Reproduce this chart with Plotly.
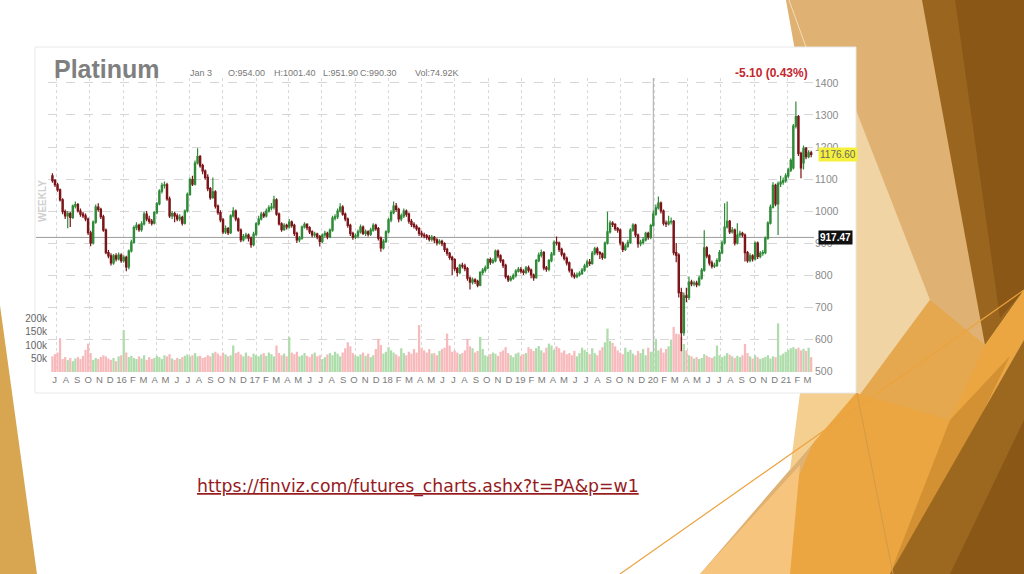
import pandas as pd
import plotly.graph_objects as go

# weekly platinum futures, one candle per week starting this date
start_week = '2015-06-21'

open_ = [
    1110, 1095, 1082, 1066, 1035, 998, 985, 992, 980, 1015,
    1020, 1000, 990, 985, 975, 932, 900, 965, 1012, 1005,
    982, 940, 870, 860, 838, 860, 850, 862, 845, 855,
    825, 875, 902, 948, 955, 942, 960, 990, 975, 968,
    962, 995, 1022, 1062, 1080, 1082, 1038, 985, 992, 985,
    975, 980, 962, 1000, 1052, 1098, 1084, 1150, 1170, 1142,
    1125, 1105, 1070, 1042, 1060, 1015, 995, 972, 935, 945,
    932, 985, 1000, 975, 940, 910, 920, 925, 915, 895,
    928, 960, 975, 990, 985, 1000, 1010, 1012, 1035, 990,
    960, 942, 955, 950, 965, 955, 930, 910, 915, 950,
    958, 948, 935, 925, 928, 920, 905, 925, 930, 920,
    940, 978, 982, 1000, 1012, 990, 975, 955, 930, 918,
    922, 935, 950, 930, 935, 928, 940, 955, 945, 915,
    885, 905, 935, 972, 995, 1015, 1005, 975, 985, 1000,
    990, 968, 958, 952, 945, 930, 925, 922, 918, 912,
    918, 910, 900, 905, 898, 880, 868, 855, 848, 820,
    808, 830, 828, 820, 790, 778, 785, 780, 768, 808,
    815, 822, 848, 840, 845, 875, 860, 845, 830, 795,
    785, 790, 798, 812, 818, 812, 808, 822, 815, 800,
    792, 845, 862, 870, 822, 818, 845, 865, 902, 900,
    880, 865, 852, 838, 815, 800, 795, 800, 805, 815,
    828, 840, 836, 868, 882, 870, 866, 855, 900, 935,
    962, 958, 945, 940, 900, 880, 890, 902, 940, 956,
    925, 898, 902, 910, 930, 918, 954, 990.3, 1010, 1025,
    1000, 962, 960, 966, 968, 870, 862, 745, 620, 735,
    730, 778, 772, 775, 770, 790, 815, 885, 860, 838,
    828, 830, 845, 870, 900, 950, 968, 935, 940, 900,
    925, 930, 925, 870, 845, 860, 850, 900, 858, 868,
    870, 915, 962, 1012, 1080, 1022, 1085, 1090, 1095, 1110,
    1128, 1135, 1265, 1295, 1180, 1150, 1196, 1170, 1182,
]

high = [
    1118, 1100, 1088, 1070, 1040, 1005, 1000, 998, 1020, 1030,
    1025, 1008, 998, 992, 980, 938, 970, 1020, 1024, 1010,
    988, 945, 878, 868, 866, 868, 870, 868, 862, 860,
    880, 910, 955, 965, 960, 968, 998, 1000, 985, 975,
    1000, 1028, 1068, 1088, 1092, 1088, 1045, 1000, 998, 992,
    990, 985, 1005, 1058, 1105, 1110, 1158, 1196, 1175, 1148,
    1130, 1115, 1075, 1105, 1065, 1020, 1002, 978, 955, 950,
    990, 1012, 1005, 980, 945, 928, 932, 930, 920, 935,
    965, 985, 998, 998, 1008, 1018, 1025, 1048, 1040, 995,
    965, 962, 960, 975, 970, 960, 935, 922, 955, 965,
    962, 952, 940, 935, 932, 925, 930, 938, 935, 945,
    985, 990, 1008, 1024, 1018, 995, 980, 960, 935, 930,
    942, 958, 955, 942, 940, 948, 962, 960, 950, 920,
    912, 940, 978, 1002, 1030, 1025, 1010, 992, 1008, 1005,
    995, 975, 965, 958, 950, 938, 932, 928, 925, 925,
    922, 915, 912, 910, 902, 885, 872, 860, 852, 825,
    835, 838, 835, 825, 795, 792, 790, 785, 812, 822,
    830, 852, 855, 852, 880, 880, 865, 850, 835, 800,
    798, 805, 818, 825, 825, 818, 828, 830, 820, 805,
    850, 870, 880, 875, 828, 850, 872, 908, 920, 905,
    885, 870, 858, 842, 820, 808, 808, 812, 822, 835,
    848, 850, 875, 888, 888, 875, 870, 905, 998, 970,
    968, 962, 950, 945, 905, 898, 910, 946, 962, 960,
    930, 910, 918, 935, 935, 960, 1001.4, 1020, 1045, 1030,
    1005, 970, 985, 980, 972, 900, 868, 760, 745, 760,
    795, 785, 782, 782, 798, 822, 940, 890, 865, 845,
    838, 852, 878, 908, 1024, 1030, 972, 950, 945, 962,
    938, 935, 930, 875, 868, 865, 905, 905, 875, 878,
    920, 968, 1020, 1090, 1085, 1092, 1110, 1105, 1118, 1135,
    1165, 1272, 1342, 1300, 1185, 1205, 1200, 1190, 1188,
]

low = [
    1088, 1075, 1060, 1030, 990, 975, 946, 950, 975, 1008,
    995, 982, 978, 968, 925, 890, 895, 960, 998, 975,
    935, 865, 852, 830, 832, 842, 845, 838, 838, 812,
    818, 870, 898, 940, 935, 935, 955, 968, 960, 955,
    958, 990, 1018, 1055, 1070, 1032, 978, 975, 965, 968,
    968, 955, 958, 995, 1048, 1078, 1080, 1145, 1135, 1115,
    1098, 1062, 1035, 1038, 1008, 988, 965, 928, 928, 925,
    928, 980, 968, 935, 902, 905, 912, 905, 885, 890,
    922, 955, 970, 978, 980, 995, 1002, 1005, 985, 955,
    935, 938, 942, 945, 948, 922, 900, 902, 910, 945,
    940, 928, 918, 918, 912, 889, 900, 918, 912, 915,
    935, 970, 975, 995, 985, 968, 948, 922, 910, 912,
    915, 930, 925, 922, 920, 922, 935, 938, 908, 873,
    880, 900, 930, 965, 990, 998, 965, 968, 978, 982,
    960, 950, 945, 938, 922, 918, 915, 910, 905, 905,
    900, 892, 895, 890, 872, 860, 848, 800, 812, 795,
    802, 820, 812, 782, 755, 770, 772, 762, 765, 800,
    808, 818, 832, 835, 840, 852, 838, 822, 788, 778,
    780, 785, 792, 808, 805, 800, 802, 808, 790, 782,
    788, 840, 855, 815, 810, 812, 840, 860, 892, 872,
    858, 845, 830, 808, 792, 788, 790, 795, 800, 810,
    822, 828, 832, 862, 862, 850, 848, 850, 895, 930,
    950, 938, 932, 892, 872, 875, 885, 898, 935, 918,
    885, 890, 895, 905, 910, 912, 951.9, 985, 1005, 992,
    955, 950, 955, 958, 862, 840, 730, 562, 610, 715,
    722, 765, 765, 762, 765, 785, 810, 852, 830, 820,
    822, 825, 840, 865, 895, 945, 928, 930, 892, 895,
    918, 918, 842, 838, 840, 842, 845, 850, 852, 860,
    865, 910, 958, 1008, 1015, 925, 1075, 1082, 1088, 1102,
    1122, 1130, 1258, 1172, 1102, 1130, 1162, 1165, 1168,
]

close_ = [
    1095, 1082, 1066, 1035, 998, 985, 992, 980, 1015, 1020,
    1000, 990, 985, 975, 932, 900, 965, 1012, 1005, 982,
    940, 870, 860, 838, 860, 850, 862, 845, 855, 825,
    875, 902, 948, 955, 942, 960, 990, 975, 968, 962,
    995, 1022, 1062, 1080, 1082, 1038, 985, 992, 985, 975,
    980, 962, 1000, 1052, 1098, 1084, 1150, 1170, 1142, 1125,
    1105, 1070, 1042, 1060, 1015, 995, 972, 935, 945, 932,
    985, 1000, 975, 940, 910, 920, 925, 915, 895, 928,
    960, 975, 990, 985, 1000, 1010, 1012, 1035, 990, 960,
    942, 955, 950, 965, 955, 930, 910, 915, 950, 958,
    948, 935, 925, 928, 920, 905, 925, 930, 920, 940,
    978, 982, 1000, 1012, 990, 975, 955, 930, 918, 922,
    935, 950, 930, 935, 928, 940, 955, 945, 915, 885,
    905, 935, 972, 995, 1015, 1005, 975, 985, 1000, 990,
    968, 958, 952, 945, 930, 925, 922, 918, 912, 918,
    910, 900, 905, 898, 880, 868, 855, 848, 820, 808,
    830, 828, 820, 790, 778, 785, 780, 768, 808, 815,
    822, 848, 840, 845, 875, 860, 845, 830, 795, 785,
    790, 798, 812, 818, 812, 808, 822, 815, 800, 792,
    845, 862, 870, 822, 818, 845, 865, 902, 900, 880,
    865, 852, 838, 815, 800, 795, 800, 805, 815, 828,
    840, 836, 868, 882, 870, 866, 855, 900, 935, 962,
    958, 945, 940, 900, 880, 890, 902, 940, 956, 925,
    898, 902, 910, 930, 918, 954, 990.3, 1010, 1025, 1000,
    962, 960, 966, 968, 870, 862, 745, 620, 735, 730,
    778, 772, 775, 770, 790, 815, 885, 860, 838, 828,
    830, 845, 870, 900, 950, 968, 935, 940, 900, 925,
    930, 925, 870, 845, 860, 850, 900, 858, 868, 870,
    915, 962, 1012, 1080, 1022, 1085, 1090, 1095, 1110, 1128,
    1158, 1265, 1295, 1180, 1135, 1196, 1170, 1182, 1176.6,
]

# weekly volume in thousands of contracts
volume_k = [
    58, 66, 72, 125, 48, 55, 44, 52, 40, 50,
    55, 48, 60, 82, 105, 70, 45, 52, 48, 56,
    62, 58, 50, 45, 52, 40, 58, 62, 155, 72,
    55, 60, 52, 48, 58, 50, 62, 45, 55, 48,
    52, 60, 55, 48, 62, 58, 66, 50, 45, 52,
    48, 55, 60, 65, 58, 62, 70, 58, 60, 52,
    55, 62, 58, 70, 75, 68, 60, 72, 65, 58,
    62, 98, 70, 75, 65, 58, 72, 60, 55, 68,
    62, 58, 65, 70, 60, 72, 66, 58, 98, 70,
    62, 68, 58, 130, 72, 66, 75, 58, 62, 70,
    60, 55, 66, 72, 58, 62, 48, 55, 65, 70,
    62, 75, 68, 58, 72, 88, 110, 95, 70, 62,
    58, 65, 72, 60, 68, 55, 62, 85, 123, 100,
    68, 75, 92, 80, 72, 65, 58, 88, 70, 62,
    75, 68, 85, 72, 174, 90, 80, 72, 85, 68,
    70, 62, 78, 85, 90, 142, 98, 75, 80, 72,
    66, 70, 80, 123, 95, 88, 72, 78, 130, 85,
    62, 58, 66, 72, 68, 60, 75, 80, 92, 70,
    62, 55, 68, 72, 60, 66, 70, 92, 85, 78,
    88, 96, 80, 72, 90, 105, 98, 82, 95, 88,
    72, 80, 66, 70, 62, 78, 58, 70, 90, 82,
    75, 66, 88, 70, 62, 80, 92, 110, 161, 115,
    108, 95, 80, 72, 66, 90, 75, 82, 68, 62,
    78, 70, 85, 62, 90, 75, 74.92, 123, 80, 88,
    72, 85, 95, 120, 167, 142, 140, 130, 104, 80,
    62, 58, 50, 55, 48, 52, 66, 60, 55, 52,
    58, 98, 62, 55, 60, 70, 64, 58, 52, 60,
    55, 62, 104, 70, 58, 50, 62, 55, 48, 52,
    56, 62, 50, 58, 55, 180, 62, 68, 75, 82,
    88, 92, 85, 90, 80, 86, 78, 90, 55,
]

month_labels = [
    'J', 'A', 'S', 'O', 'N', 'D',
    '16', 'F', 'M', 'A', 'M', 'J', 'J', 'A', 'S', 'O', 'N', 'D',
    '17', 'F', 'M', 'A', 'M', 'J', 'J', 'A', 'S', 'O', 'N', 'D',
    '18', 'F', 'M', 'A', 'M', 'J', 'J', 'A', 'S', 'O', 'N', 'D',
    '19', 'F', 'M', 'A', 'M', 'J', 'J', 'A', 'S', 'O', 'N', 'D',
    '20', 'F', 'M', 'A', 'M', 'J', 'J', 'A', 'S', 'O', 'N', 'D',
    '21', 'F', 'M',
]
first_month = '2015-07-01'

price_ticks = [500, 600, 700, 800, 900, 1000, 1100, 1200, 1300, 1400]
vol_ticks = [50, 100, 150, 200]
vol_labels = ['50k', '100k', '150k', '200k']

last_price = 1176.60
ref_level = 917.47
change_text = '-5.10 (0.43%)'
hover_idx = 236
hover_label = 'Jan 3'

n = len(close_)
assert len(open_) == n and len(high) == n and len(low) == n and len(volume_k) == n

dates = pd.date_range(start_week, periods=n, freq='7D')
month_ticks = pd.date_range(first_month, periods=len(month_labels), freq='MS') - pd.Timedelta(days=4)
quarter_ticks = pd.date_range('2015-07-01', '2021-01-01', freq='QS')
x_range = ['2015-06-08 19:00', '2021-03-14 19:00']

# page geometry (pixels) of the plot area
W, H = 1024, 574
L, R, T, B = 48, 814, 78, 372


def px(x):
    return (x - L) / (R - L)


def py(y):
    return (B - y) / (B - T)


def poly(points, color, opacity=1.0):
    path = 'M ' + ' L '.join(f'{px(x):.4f},{py(y):.4f}' for x, y in points) + ' Z'
    return dict(type='path', xref='paper', yref='paper', path=path,
                fillcolor=color, opacity=opacity, line=dict(width=0), layer='below')


def seg(x0, y0, x1, y1, color, width=1):
    return dict(type='line', xref='paper', yref='paper',
                x0=px(x0), y0=py(y0), x1=px(x1), y1=py(y1),
                line=dict(color=color, width=width), layer='below')


fig = go.Figure()

vol_colors = ['#aedcaa' if c >= o else '#f7b9bb' for o, c in zip(open_, close_)]

fig.add_trace(
    go.Bar(
        x=dates,
        y=volume_k,
        marker=dict(color=vol_colors, line=dict(width=0)),
        xaxis='x',
        yaxis='y',
        showlegend=False,
        hoverinfo='skip'
    )
)

fig.add_trace(
    go.Candlestick(
        x=dates,
        open=open_,
        high=high,
        low=low,
        close=close_,
        xaxis='x2',
        yaxis='y2',
        increasing=dict(line=dict(color='#2f8a38', width=1.2), fillcolor='#45ad4f'),
        decreasing=dict(line=dict(color='#7a1418', width=1.2), fillcolor='#a8232b'),
        whiskerwidth=0,
        showlegend=False
    )
)

shapes = [
    # slide decoration
    poly([(0, 305), (37, 574), (0, 574)], '#d8a650'),
    poly([(786, 0), (1024, 0), (1024, 574), (700, 574), (856, 393)], '#dfb273'),
    poly([(922, 0), (1024, 0), (1024, 290), (985, 345)], '#9a661f'),
    poly([(955, 0), (1024, 0), (1024, 290), (1000, 318)], '#8a5716'),
    poly([(856, 110), (930, 300), (856, 400)], '#f1d4a4'),
    poly([(930, 300), (985, 345), (950, 420), (856, 400)], '#e5a84e'),
    poly([(756, 574), (835, 393), (856, 393), (950, 420), (985, 345), (1024, 290),
          (1024, 340), (890, 574)], '#eba641'),
    poly([(800, 393), (856, 393), (790, 470)], '#f5cf8f'),
    poly([(950, 420), (1010, 356), (905, 574), (890, 574)], '#d39134'),
    poly([(1024, 340), (1024, 574), (890, 574)], '#9c6820'),
    poly([(1024, 420), (1024, 574), (950, 574)], '#8a5717'),
    poly([(700, 574), (800, 465), (790, 574)], '#f6c47c'),
    seg(620, 574, 1024, 290, '#eba33f', 1.2),
    seg(789, 0, 806, 47, '#f3dcb4', 1),
    seg(857, 393, 893, 574, '#d49a45', 1),
    # white chart panel
    dict(type='rect', xref='paper', yref='paper',
         x0=px(35), y0=py(393), x1=px(856), y1=py(47),
         fillcolor='white', line=dict(color='#e8e8e8', width=1), layer='below'),
    # last close reference line and crosshair
    dict(type='line', xref='paper', yref='y2', x0=px(36), x1=1, y0=ref_level, y1=ref_level,
         line=dict(color='#9a9a9a', width=1), layer='below'),
    dict(type='line', xref='x2', yref='paper', x0=dates[hover_idx], x1=dates[hover_idx],
         y0=0, y1=1, line=dict(color='#a8a8a8', width=1), layer='below'),
]

font_main = 'Liberation Sans, Arial, sans-serif'
info_font = dict(size=9, color='#777777', family=font_main)

annotations = [
    dict(x=px(52), y=py(69), text='<b>Platinum</b>', xanchor='left', yanchor='middle',
         font=dict(size=25, color='#7f7f7f', family=font_main)),
    dict(x=px(188), y=py(73), text=hover_label, xanchor='left', yanchor='middle', font=info_font),
    dict(x=px(226), y=py(73), text=f'O:{open_[hover_idx]:.2f}', xanchor='left', yanchor='middle',
         font=info_font),
    dict(x=px(272), y=py(73), text=f'H:{high[hover_idx]:.2f}', xanchor='left', yanchor='middle',
         font=info_font),
    dict(x=px(321), y=py(73), text=f'L:{low[hover_idx]:.2f}', xanchor='left', yanchor='middle',
         font=info_font),
    dict(x=px(358), y=py(73), text=f'C:{close_[hover_idx]:.2f}', xanchor='left', yanchor='middle',
         font=info_font),
    dict(x=px(413), y=py(73), text=f'Vol:{volume_k[hover_idx]:.2f}K', xanchor='left', yanchor='middle',
         font=info_font),
    dict(x=px(810), y=py(73), text=f'<b>{change_text}</b>', xanchor='right', yanchor='middle',
         font=dict(size=12, color='#c3262e', family=font_main)),
    dict(x=px(42), y=py(201), text='<b>WEEKLY</b>', textangle=-90, xanchor='center', yanchor='middle',
         font=dict(size=10, color='#cfcfcf', family=font_main)),
    dict(x=px(818), y=last_price, xref='paper', yref='y2', text=f'{last_price:.2f}',
         xanchor='left', yanchor='middle', bgcolor='#f5f03c', borderpad=1,
         font=dict(size=10, color='#666666', family=font_main)),
    dict(x=px(818), y=ref_level, xref='paper', yref='y2', text=f'<b>{ref_level:.2f}</b>',
         xanchor='left', yanchor='middle', bgcolor='#111111', borderpad=1,
         font=dict(size=10, color='white', family=font_main)),
    dict(x=px(418), y=py(487), text='<u>https://finviz.com/futures_charts.ashx?t=PA&p=w1</u>',
         xanchor='center', yanchor='middle',
         font=dict(size=17.3, color='#961b1e', family='DejaVu Sans, sans-serif')),
]
for a in annotations:
    a.setdefault('xref', 'paper')
    a.setdefault('yref', 'paper')
    a['showarrow'] = False

fig.update_layout(
    width=W,
    height=H,
    autosize=False,
    margin=dict(l=L, r=W - R, t=T, b=H - B, pad=0),
    paper_bgcolor='white',
    plot_bgcolor='rgba(0,0,0,0)',
    font=dict(family=font_main, size=10, color='#777777'),
    bargap=0.12,
    showlegend=False,
    shapes=shapes,
    annotations=annotations,
    xaxis=dict(
        range=x_range,
        tickvals=quarter_ticks,
        showticklabels=False,
        showgrid=True,
        gridcolor='#d9d9d9',
        griddash='dot',
        gridwidth=1,
        zeroline=False,
        ticks='',
        showline=False,
        rangeslider=dict(visible=False)
    ),
    xaxis2=dict(
        overlaying='x',
        side='bottom',
        range=x_range,
        tickvals=month_ticks,
        ticktext=month_labels,
        tickfont=dict(size=9.5, color='#7a7a7a', family=font_main),
        showgrid=False,
        zeroline=False,
        ticks='',
        showline=False,
        rangeslider=dict(visible=False)
    ),
    yaxis=dict(
        range=[0, 1089],
        side='left',
        tickvals=vol_ticks,
        ticktext=vol_labels,
        tickfont=dict(size=10, color='#666666', family=font_main),
        showgrid=False,
        zeroline=False,
        ticks='',
        showline=False
    ),
    yaxis2=dict(
        overlaying='y',
        side='right',
        range=[496.9, 1415.6],
        tickvals=price_ticks,
        tickfont=dict(size=10.5, color='#8a8a8a', family=font_main),
        showgrid=True,
        gridcolor='#d6d6d6',
        griddash='dash',
        gridwidth=1,
        zeroline=False,
        ticks='',
        showline=False
    )
)

fig.write_html(
    'out.html',
    config={'displayModeBar': False},
    post_script="document.body.style.margin='0px'; document.body.style.overflow='hidden';"
)
